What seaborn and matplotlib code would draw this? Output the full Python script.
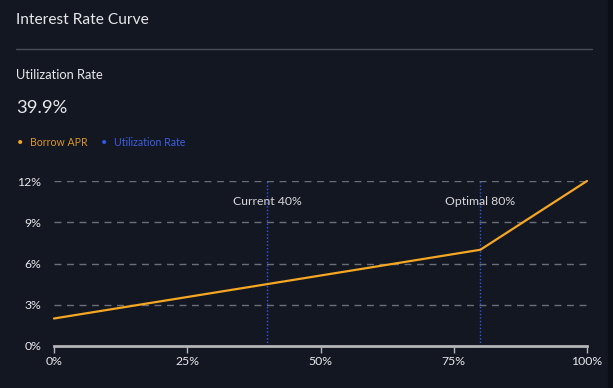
import pandas as pd
import matplotlib.pyplot as plt
import seaborn as sns
from matplotlib.lines import Line2D
from matplotlib.patches import Rectangle

# Chart data
utilization = [0, 80, 100]
borrow_apr = [2.0, 7.0, 12.0]
markers_x = [40, 80]
marker_labels = ["Current 40%", "Optimal 80%"]
x_ticks = [0, 25, 50, 75, 100]
y_ticks = [0, 3, 6, 9, 12]
current_rate = "39.9%"

BG = "#131722"
ORANGE = "#f5a623"
BLUE = "#2f5bea"
TEXT = "#e8e8ea"

sns.set_theme(style="dark")
plt.rcParams["font.family"] = ["Lato", "DejaVu Sans"]

df = pd.DataFrame({"Utilization": utilization, "Borrow APR": borrow_apr})

W, H = 613, 388
fig = plt.figure(figsize=(W / 100, H / 100), dpi=100, facecolor=BG)
# darker strip at the right edge of the card
fig.add_artist(Rectangle((608 / W, 0), 5 / W, 1, transform=fig.transFigure,
                         color="#0b0e14", zorder=0))
ax = fig.add_axes([54 / W, (H - 346) / H, (587 - 54) / W, (346 - 181) / H])
ax.set_facecolor(BG)

# header texts
fig.text(16 / W, 1 - 20 / H, "Interest Rate Curve", color=TEXT, fontsize=11.2, va="center")
fig.add_artist(Line2D([16 / W, 592 / W], [1 - 49 / H, 1 - 49 / H], color="#4a4e58", lw=1))
fig.text(16 / W, 1 - 75 / H, "Utilization Rate", color=TEXT, fontsize=9.3, va="center")
fig.text(16 / W, 1 - 108 / H, current_rate, color=TEXT, fontsize=13.2, va="center")

# legend
fig.text(17 / W, 1 - 142 / H, "•", color=ORANGE, fontsize=8, va="center")
fig.text(30 / W, 1 - 142 / H, "Borrow APR", color="#d9962a", fontsize=7.6, va="center")
fig.text(101 / W, 1 - 142 / H, "•", color=BLUE, fontsize=8, va="center")
fig.text(114 / W, 1 - 142 / H, "Utilization Rate", color="#3d5fe0", fontsize=7.6, va="center")

# grid
for y in y_ticks[1:]:
    ax.axhline(y, color="#6b6e76", lw=1, ls=(0, (5, 4)), zorder=1)

# vertical markers
for x, lab in zip(markers_x, marker_labels):
    ax.axvline(x, color=BLUE, lw=1, ls=(0, (1, 1.5)), zorder=2)
    ax.text(x, 10.5, lab, color="#d8d8da", fontsize=8.8, ha="center", va="center")

sns.lineplot(data=df, x="Utilization", y="Borrow APR", color=ORANGE, lw=1.6,
             ax=ax, zorder=3, clip_on=False)

ax.set_xlim(0, 100)
ax.set_ylim(0, 12)
ax.set_xticks(x_ticks)
ax.set_xticklabels([f"{v}%" for v in x_ticks])
ax.set_yticks(y_ticks)
ax.set_yticklabels([f"{v}%" for v in y_ticks])
ax.set_xlabel("")
ax.set_ylabel("")
ax.grid(False)

for s in ["top", "right", "left"]:
    ax.spines[s].set_visible(False)
ax.spines["bottom"].set_color("#b5b5b8")
ax.spines["bottom"].set_linewidth(2)
ax.tick_params(axis="x", colors="#b5b5b8", length=5, width=1, direction="out",
               labelcolor=TEXT, labelsize=8.8, pad=2, bottom=True)
ax.tick_params(axis="y", length=0, labelcolor=TEXT, labelsize=8.8, pad=9)

fig.savefig("out.png", dpi=100, facecolor=BG)
